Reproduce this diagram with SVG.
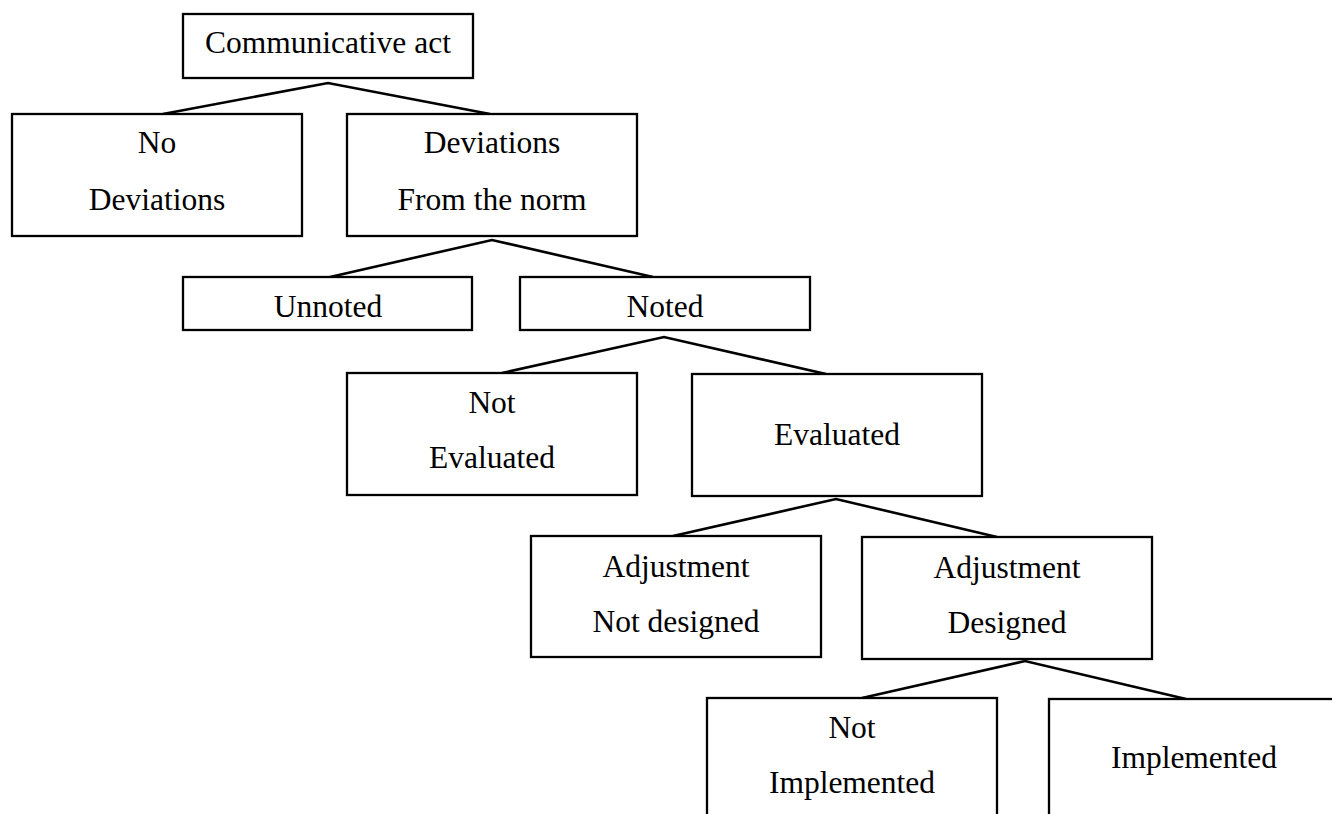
<svg xmlns="http://www.w3.org/2000/svg" width="1332" height="814" viewBox="0 0 1332 814">
<style>
rect{fill:#fff;stroke:#000;stroke-width:2.3}
text{font-family:"Liberation Serif","Times New Roman",serif;font-size:31.5px;fill:#000;text-anchor:middle}
.c polyline{fill:none;stroke:#000;stroke-width:2.6}
</style>
<rect x="0" y="0" width="1332" height="814" style="stroke:none"/>
<g class="c" id="connectors">
<polyline points="163,114 328,83 490,114"/>
<polyline points="330,277 492,240 653,277"/>
<polyline points="502,373 664,337 826,374"/>
<polyline points="673,536 836,499 997,537"/>
<polyline points="862,698 1025,661 1186,699"/>
</g>
<g id="n1"><rect x="183" y="14" width="290" height="64"/><text x="328" y="53">Communicative act</text></g>
<g id="n2"><rect x="12" y="114" width="290" height="122"/><text x="157" y="153">No</text><text x="157" y="210">Deviations</text></g>
<g id="n3"><rect x="347" y="114" width="290" height="122"/><text x="492" y="153">Deviations</text><text x="492" y="210">From the norm</text></g>
<g id="n4"><rect x="183" y="277" width="289" height="53"/><text x="328" y="317">Unnoted</text></g>
<g id="n5"><rect x="520" y="277" width="290" height="53"/><text x="665" y="317">Noted</text></g>
<g id="n6"><rect x="347" y="373" width="290" height="122"/><text x="492" y="413">Not</text><text x="492" y="468">Evaluated</text></g>
<g id="n7"><rect x="692" y="374" width="290" height="122"/><text x="837" y="445">Evaluated</text></g>
<g id="n8"><rect x="531" y="536" width="290" height="121"/><text x="676" y="577">Adjustment</text><text x="676" y="632">Not designed</text></g>
<g id="n9"><rect x="862" y="537" width="290" height="122"/><text x="1007" y="578">Adjustment</text><text x="1007" y="633">Designed</text></g>
<g id="n10"><rect x="707" y="698" width="290" height="130"/><text x="852" y="738">Not</text><text x="852" y="793">Implemented</text></g>
<g id="n11"><rect x="1049" y="699" width="300" height="130"/><text x="1194" y="768">Implemented</text></g>
</svg>
